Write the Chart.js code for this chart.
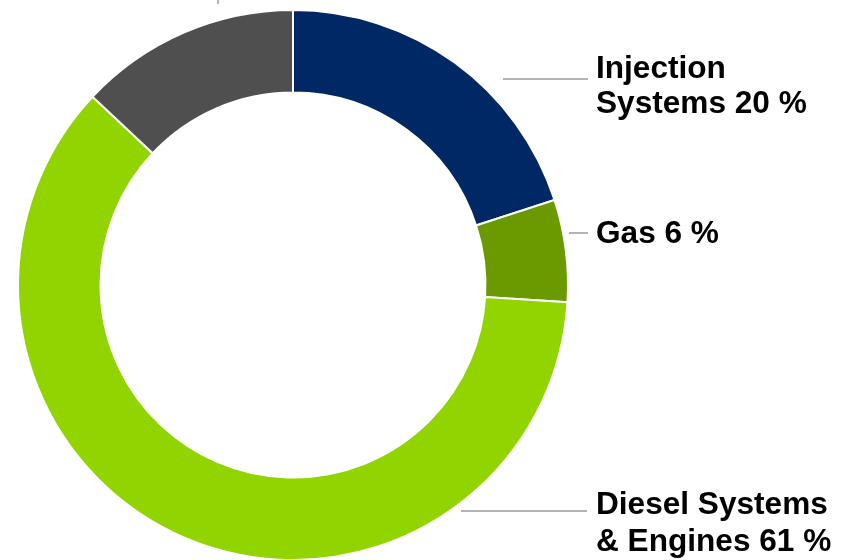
<!DOCTYPE html>
<html>
<head>
<meta charset="utf-8">
<script src="https://cdn.jsdelivr.net/npm/chart.js@4.4.0/dist/chart.umd.min.js"></script>
<style>
  html, body { margin: 0; padding: 0; background: #fff; }
  #wrap { width: 852px; height: 560px; }
</style>
</head>
<body>
<div id="wrap"><canvas id="salesChart" width="852" height="560"></canvas></div>
<script>
// Anteile nach Geschäftsbereich (Prozent)
const categories = ['Injection Systems', 'Gas', 'Diesel Systems & Engines', 'Other'];
const shares = [20, 6, 61, 13];
const sliceColors = ['#002864', '#6a9a00', '#92d400', '#4f4f4f'];

// Beschriftungen rechts neben dem Ring
const labelLines = [
    ['Injection', 'Systems 20 %'],
    ['Gas 6 %'],
    ['Diesel Systems', '& Engines 61 %']
];

// Plugin für Beschriftungen und Hinweislinien
const calloutPlugin = {
    id: 'callouts',
    afterDraw(chart) {
        const ctx = chart.ctx;
        ctx.save();
        ctx.strokeStyle = '#9a9a9a';
        ctx.lineWidth = 1.5;
        const leaders = [
            [503, 79, 588, 79],
            [569, 233, 588, 233],
            [461, 511, 587, 511],
            [218, 0, 218, 4]
        ];
        leaders.forEach(l => {
            ctx.beginPath();
            ctx.moveTo(l[0], l[1]);
            ctx.lineTo(l[2], l[3]);
            ctx.stroke();
        });

        ctx.fillStyle = '#000';
        ctx.font = 'bold 31.6px "Liberation Sans", Arial, sans-serif';
        ctx.textBaseline = 'alphabetic';
        ctx.textAlign = 'left';
        const baselines = [[78, 113], [243], [514, 551]];
        labelLines.forEach((lines, i) => {
            lines.forEach((txt, j) => {
                ctx.fillText(txt, 596, baselines[i][j]);
            });
        });
        ctx.restore();
    }
};

function createSalesChart() {
    const ctx = document.getElementById('salesChart').getContext('2d');

    window.salesChart = new Chart(ctx, {
        type: 'doughnut',
        data: {
            labels: categories,
            datasets: [{
                data: shares,
                backgroundColor: sliceColors,
                borderColor: '#fff',
                borderWidth: 2,
                borderJoinStyle: 'miter'
            }]
        },
        options: {
            responsive: false,
            animation: false,
            cutout: '70%',
            radius: 275,
            layout: {
                padding: { left: 18, right: 284, top: 10, bottom: 0 }
            },
            plugins: {
                legend: { display: false },
                tooltip: { enabled: false }
            }
        },
        plugins: [calloutPlugin]
    });
}

createSalesChart();
</script>
</body>
</html>
